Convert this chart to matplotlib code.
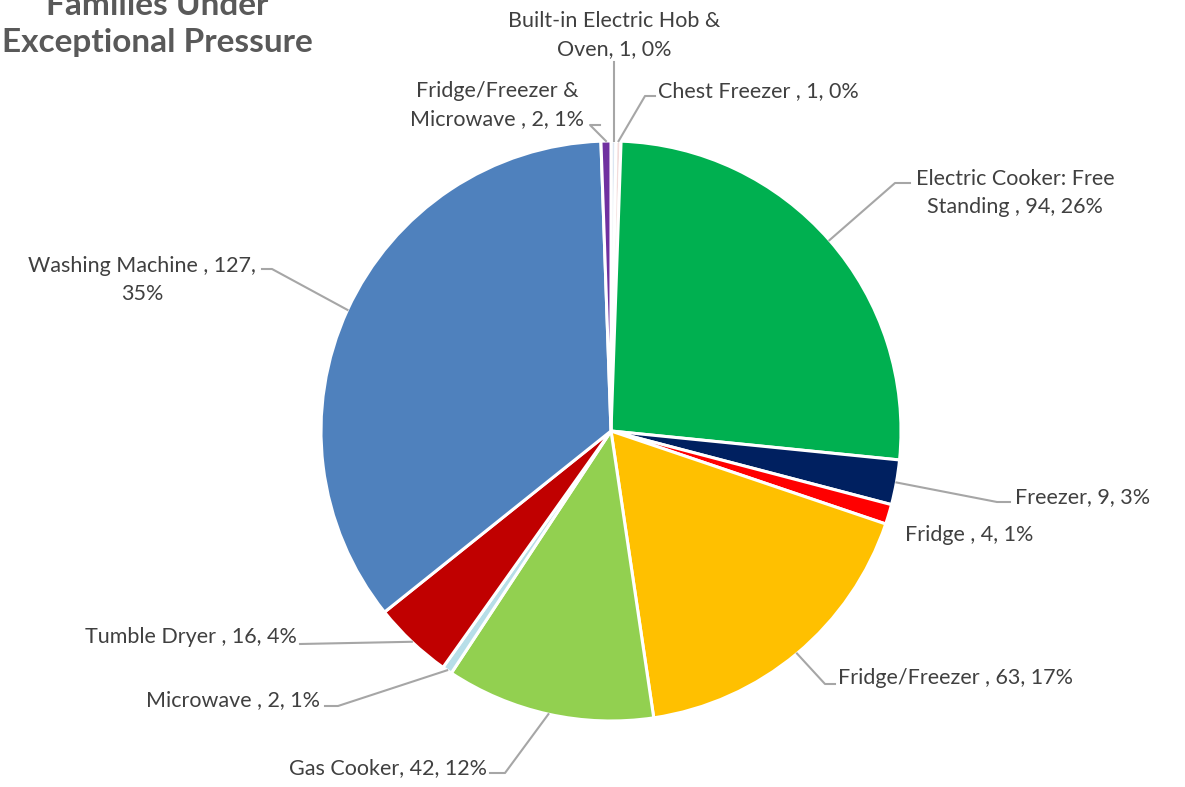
import numpy as np
import matplotlib.pyplot as plt

plt.rcParams['font.family'] = ['Lato', 'DejaVu Sans']

appliances = ['Built-in Electric Hob &\nOven', 'Chest Freezer ', 'Electric Cooker: Free\nStanding ',
              'Freezer', 'Fridge ', 'Fridge/Freezer ', 'Gas Cooker', 'Microwave ',
              'Tumble Dryer ', 'Washing Machine ', 'Fridge/Freezer &\nMicrowave ']
counts = [1, 1, 94, 9, 4, 63, 42, 2, 16, 127, 2]
pcts = [0, 0, 26, 3, 1, 17, 12, 1, 4, 35, 1]
colors = ['#dce6f2', '#f2dcdb', '#00b050', '#002060', '#ff0000', '#ffc000',
          '#92d050', '#b7dee8', '#c00000', '#4f81bd', '#7030a0']

W, H = 1185, 787
fig = plt.figure(figsize=(W / 100, H / 100), dpi=100)
ax = fig.add_axes([0, 0, 1, 1])

cx, cy, R = 611, H - 431, 290
wedges, _ = ax.pie(counts, colors=colors, startangle=90, counterclock=False,
                   center=(cx, cy), radius=R, frame=True,
                   wedgeprops=dict(edgecolor='white', linewidth=2.2))
ax.set_xlim(0, W)
ax.set_ylim(0, H)
ax.set_aspect('equal')
ax.axis('off')

# label text position (pixels from top-left), alignment, elbow and tail of the leader line
label_pos = [
    (614, 35, 'center', None),
    (658, 91, 'left', (645, 96)),
    (1015, 193, 'center', (895, 183)),
    (1015, 497, 'left', (997, 502)),
    (905, 535, 'left', None),
    (838, 678, 'left', (825, 684)),
    (487, 768, 'right', (505, 773)),
    (320, 700, 'right', (338, 706)),
    (297, 637, 'right', (300, 644)),
    (142, 280, 'center', (272, 269)),
    (497, 105, 'center', (590, 125)),
]
tail = [None, (655, 96), (910, 183), (1010, 502), None, (835, 684),
        (490, 773), (325, 706), None, (262, 269), (600, 125)]

for i, w in enumerate(wedges):
    tx, ty, ha, elbow = label_pos[i]
    pct_sep = '\n' if i == 9 else ' '
    ax.text(tx, H - ty, f'{appliances[i]}, {counts[i]},{pct_sep}{pcts[i]}%', ha=ha, va='center',
            fontsize=15.5, color='#404040', linespacing=1.55)
    mid = np.deg2rad((w.theta1 + w.theta2) / 2)
    px, py = cx + R * np.cos(mid), cy + R * np.sin(mid)
    if i == 0:
        ax.plot([px, px], [py, H - 62], color='#a6a6a6', lw=1.5)
    elif elbow is not None:
        xs = [px, elbow[0]]
        ys = [py, H - elbow[1]]
        if tail[i] is not None:
            xs.append(tail[i][0])
            ys.append(H - tail[i][1])
        ax.plot(xs, ys, color='#a6a6a6', lw=1.5)

ax.text(157, H - 24, 'Families Under\nExceptional Pressure', ha='center', va='center',
        fontsize=24, fontweight='bold', color='#595959', linespacing=1.3)

fig.savefig('out.png', dpi=100)
